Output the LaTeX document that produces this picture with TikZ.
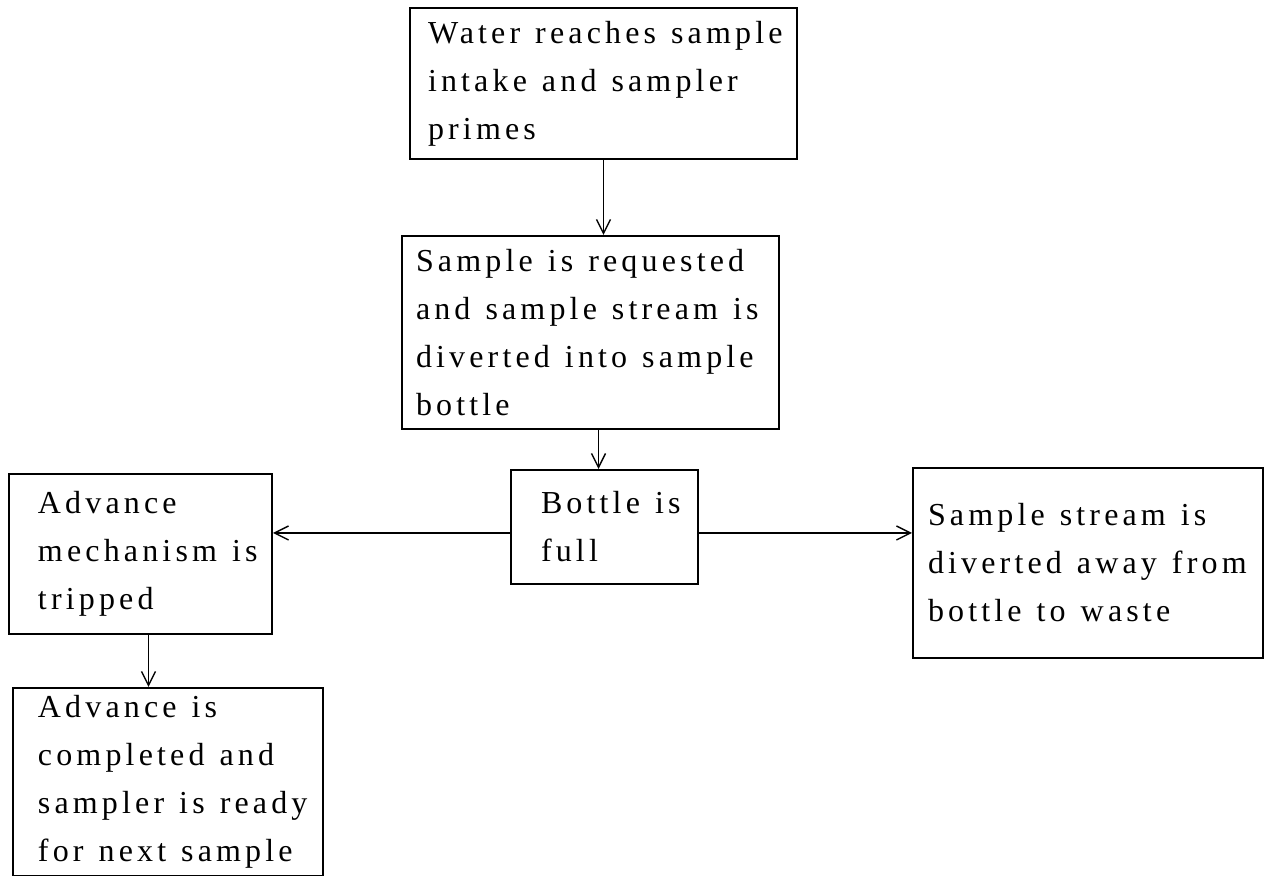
\documentclass[tikz,border=0pt]{standalone}
\usepackage{fontspec}
\setmainfont{Liberation Serif}[LetterSpace=13]
\usetikzlibrary{arrows.meta}
\tikzset{
  stepbox/.style={draw, line width=1pt, anchor=north west, align=left,
    inner ysep=0pt, font=\fontsize{16}{24}\selectfont,
    execute at begin node={\spaceskip=7.5pt\relax}},
  arr/.style={-{Straight Barb[length=7pt,width=7pt]}, line width=0.7pt}
}
\begin{document}
\begin{tikzpicture}
    [x=0.5pt, y=-0.5pt]
    \useasboundingbox (0,0) rectangle (1266,876);
    %boxes
    \node[stepbox, inner xsep=9pt, text width=175.5pt, minimum height=75.5pt] (water) at (409,7)
    {Water~reaches~sample\\intake~and~sampler\\primes};
    \node[stepbox, inner xsep=7pt, text width=174.5pt, minimum height=96.5pt] (req) at (401,235)
    {Sample~is~requested\\and~sample~stream~is\\diverted~into~sample\\bottle};
    \node[stepbox, inner xsep=15pt, text width=63.5pt, minimum height=57pt] (full) at (510,469)
    {Bottle~is\\full};
    \node[stepbox, inner xsep=14.5pt, text width=102.5pt, minimum height=80pt] (adv) at (8,473)
    {Advance\\mechanism~is\\tripped};
    \node[stepbox, inner xsep=12.5pt, text width=130pt, minimum height=94pt] (done) at (12,687)
    {Advance~is\\completed~and\\sampler~is~ready\\for~next~sample};
    \node[stepbox, inner xsep=7.5pt, text width=160pt, minimum height=95pt] (waste) at (912,467)
    {Sample~stream~is\\diverted~away~from\\bottle~to~waste};
    %arrows
    \draw[arr] (water.south) -- (water.south |- req.north);
    \draw[arr] ([xshift=4pt]req.south) -- ([xshift=4pt]req.south |- full.north);
    \draw[arr] ([yshift=-3pt]full.west) -- ([yshift=-3pt]full.west -| adv.east);
    \draw[arr] ([yshift=-3pt]full.east) -- ([yshift=-3pt]full.east -| waste.west);
    \draw[arr] ([xshift=4pt]adv.south) -- ([xshift=4pt]adv.south |- done.north);
\end{tikzpicture}
\end{document}
